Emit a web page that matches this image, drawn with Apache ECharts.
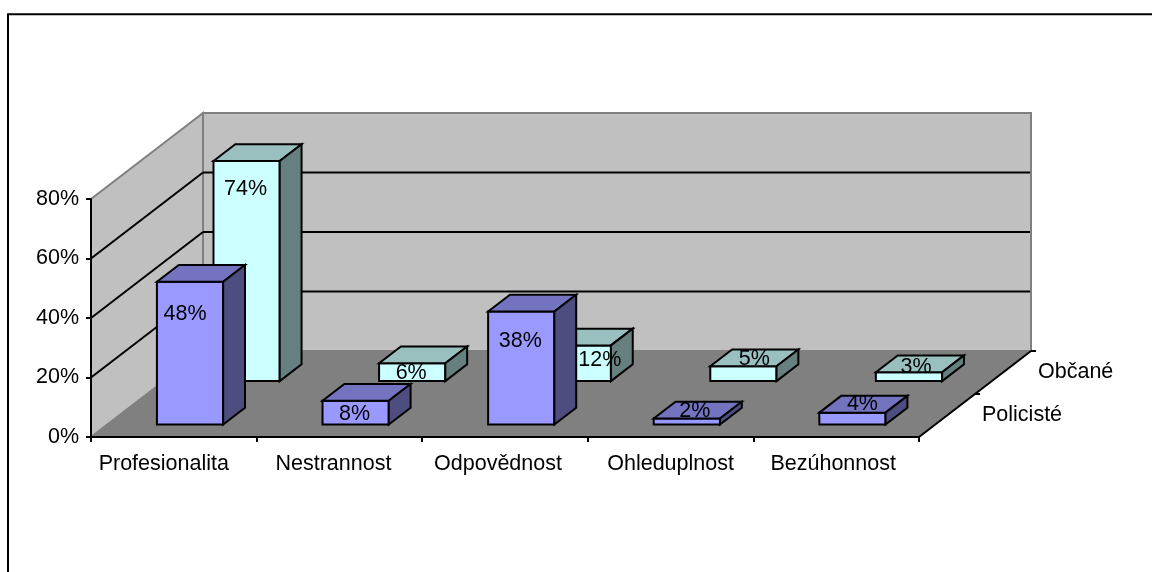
<!DOCTYPE html>
<html>
<head>
<meta charset="utf-8">
<script src="https://cdn.jsdelivr.net/npm/echarts@6/dist/echarts.min.js"></script>
<style>html,body{margin:0;padding:0;background:#fff}#c{width:1152px;height:572px}</style>
</head>
<body>
<div id="c"></div>
<script>
// ---- data ----
var categories = ['Profesionalita', 'Nestrannost', 'Odpovědnost', 'Ohleduplnost', 'Bezúhonnost'];
var rows = ['Policisté', 'Občané'];
var policiste = [48, 8, 38, 2, 4];
var obcane = [74, 6, 12, 5, 3];
var yTicks = [0, 20, 40, 60, 80];

// ---- style / layout helpers, kept apart from the data ----
var FONT_SIZE = 21.5;
var FONT_FAMILY = '"Liberation Sans", Arial, sans-serif';
var FONT = FONT_SIZE + 'px ' + FONT_FAMILY;
var DEPTH_X = 112, DEPTH_Y = -86;      // projection of the floor's depth axis
var ROW_T = [0.25, 0.75];              // row centres along the depth axis
var ROW_FRONT = [0.145, 0.65];         // where each row's bars start
var BAR_DEPTH = 0.195, BAR_WIDTH = 0.4; // fractions of depth axis / category band
var labelPad = [20, 12, 14, 0, 6];
var nudgeP = [[-5, 32], [-1, 13], [-1, 30], [8, -8], [10, -9]];
var nudgeO = [[-1, 28], [-1, 10], [22, 15], [11, -7], [7, -5]];
var PAL_P = {front: '#9999ff', top: '#7373bf', side: '#4d4d80'};
var PAL_O = {front: '#ccffff', top: '#99bfbf', side: '#667f7f'};

function proj(p, t) { return [p[0] + t * DEPTH_X, p[1] + t * DEPTH_Y]; }
function poly(points, fill, stroke, lw) {
  return {type: 'polygon', shape: {points: points},
          style: {fill: fill, stroke: stroke || fill, lineWidth: lw === undefined ? 2 : lw, lineJoin: 'miter'}};
}
function line(a, b, stroke, lw) {
  return {type: 'line', shape: {x1: a[0], y1: a[1], x2: b[0], y2: b[1]},
          style: {stroke: stroke, lineWidth: lw}};
}

function renderFrame(params, api) {
  var band = api.size([1, 0])[0];
  var x0 = api.coord([0, 0])[0] - band / 2;
  var x1 = api.coord([categories.length - 1, 0])[0] + band / 2;
  var y0 = api.coord([0, yTicks[0]])[1];
  var yTop = api.coord([0, yTicks[yTicks.length - 1]])[1];
  var ch = [];
  // left wall, back wall, floor
  ch.push(poly([[x0, yTop], proj([x0, yTop], 1), proj([x0, y0], 1), [x0, y0]], '#c0c0c0', '#808080', 2));
  ch.push(poly([proj([x0, yTop], 1), proj([x1, yTop], 1), proj([x1, y0], 1), proj([x0, y0], 1)], '#c0c0c0', '#808080', 2));
  ch.push(poly([[x0, y0], proj([x0, y0], 1), proj([x1, y0], 1), [x1, y0]], '#808080', '#808080', 1));
  // gridlines
  yTicks.forEach(function (v) {
    if (v === yTicks[0] || v === yTicks[yTicks.length - 1]) return;
    var y = api.coord([0, v])[1];
    ch.push(line([x0, y], proj([x0, y], 1), '#000', 2));
    ch.push(line(proj([x0, y], 1), proj([x1 - 1, y], 1), '#000', 2));
  });
  // depth axis, its ticks and the row names
  ch.push(line([x1, y0], proj([x1, y0], 1), '#000', 2));
  ch.push(line(proj([x1, y0], 0.5), [proj([x1, y0], 0.5)[0] + 5, proj([x1, y0], 0.5)[1]], '#000', 2));
  ch.push(line(proj([x1, y0], 1), [proj([x1, y0], 1)[0] + 5, proj([x1, y0], 1)[1]], '#000', 2));
  rows.forEach(function (name, i) {
    var p = proj([x1, y0], ROW_T[i]);
    ch.push({type: 'text', style: {text: name, x: p[0] + 35, y: p[1], font: FONT, fill: '#000', align: 'left', verticalAlign: 'middle'}});
  });
  return {type: 'group', children: ch};
}

function barRenderer(rowIndex, pal) {
  return function (params, api) {
    var cat = api.value(0), val = api.value(1);
    var band = api.size([1, 0])[0];
    var base = api.coord([cat, 0]);
    var top = api.coord([cat, val]);
    var w = band * BAR_WIDTH;
    var t = ROW_FRONT[rowIndex];
    var fl = [base[0] - w / 2, top[1]], fr = [base[0] + w / 2, top[1]];
    var bl = [base[0] - w / 2, base[1]], br = [base[0] + w / 2, base[1]];
    var A = proj(fl, t), B = proj(fr, t), C = proj(br, t), D = proj(bl, t);
    var E = proj(fl, t + BAR_DEPTH), F = proj(fr, t + BAR_DEPTH), G = proj(br, t + BAR_DEPTH);
    return {type: 'group', children: [
      poly([A, B, C, D], pal.front, '#000'),
      poly([A, E, F, B], pal.top, '#000'),
      poly([B, F, G, C], pal.side, '#000')
    ]};
  };
}

function labelRenderer(rowIndex, nudge) {
  return function (params, api) {
    var cat = api.value(0), val = api.value(1);
    var p = proj(api.coord([cat, val]), ROW_FRONT[rowIndex]);
    var n = nudge[params.dataIndex];
    return {type: 'text', style: {text: val + '%', x: p[0] + n[0], y: p[1] + n[1], font: FONT, fill: '#000', align: 'center', verticalAlign: 'middle'}};
  };
}

function pairs(arr) { return arr.map(function (v, i) { return [i, v]; }); }
function custom(name, renderItem, data, z) {
  return {type: 'custom', name: name, renderItem: renderItem, data: data, z: z, clip: false,
          encode: {x: 0, y: 1}, silent: true};
}

var chart = echarts.init(document.getElementById('c'), null, {renderer: 'canvas'});
chart.setOption({
  animation: false,
  backgroundColor: '#fff',
  textStyle: {fontFamily: FONT_FAMILY},
  graphic: [{type: 'polyline', z: 100, silent: true,
             shape: {points: [[8, 600], [8, 14.3], [1180, 14.3]]},
             style: {fill: null, stroke: '#000', lineWidth: 2}}],
  grid: {left: 91, right: 233, top: 199, bottom: 135, containLabel: false},
  xAxis: {
    type: 'category',
    data: categories.map(function (c, i) {
      return {value: c, textStyle: {padding: [0, labelPad[i], 0, 0]}};
    }),
    boundaryGap: true,
    z: 10,
    axisLine: {show: true, lineStyle: {color: '#000', width: 2}},
    axisTick: {show: true, alignWithLabel: false, length: 5, lineStyle: {color: '#000', width: 2}},
    axisLabel: {interval: 0, margin: 16, color: '#000', fontSize: FONT_SIZE, fontFamily: FONT_FAMILY},
    splitLine: {show: false}
  },
  yAxis: {
    type: 'value', min: 0, max: 80, interval: 20,
    z: 10,
    axisLine: {show: true, lineStyle: {color: '#000', width: 2}},
    axisTick: {show: true, length: 5, lineStyle: {color: '#000', width: 2}},
    axisLabel: {margin: 12, color: '#000', fontSize: FONT_SIZE, fontFamily: FONT_FAMILY, formatter: '{value}%'},
    splitLine: {show: false}
  },
  series: [
    custom('frame', renderFrame, [[0, 0]], 1),
    custom(rows[1], barRenderer(1, PAL_O), pairs(obcane), 2),
    custom(rows[0], barRenderer(0, PAL_P), pairs(policiste), 3),
    custom(rows[1] + ' labels', labelRenderer(1, nudgeO), pairs(obcane), 4),
    custom(rows[0] + ' labels', labelRenderer(0, nudgeP), pairs(policiste), 5)
  ]
});
</script>
</body>
</html>
